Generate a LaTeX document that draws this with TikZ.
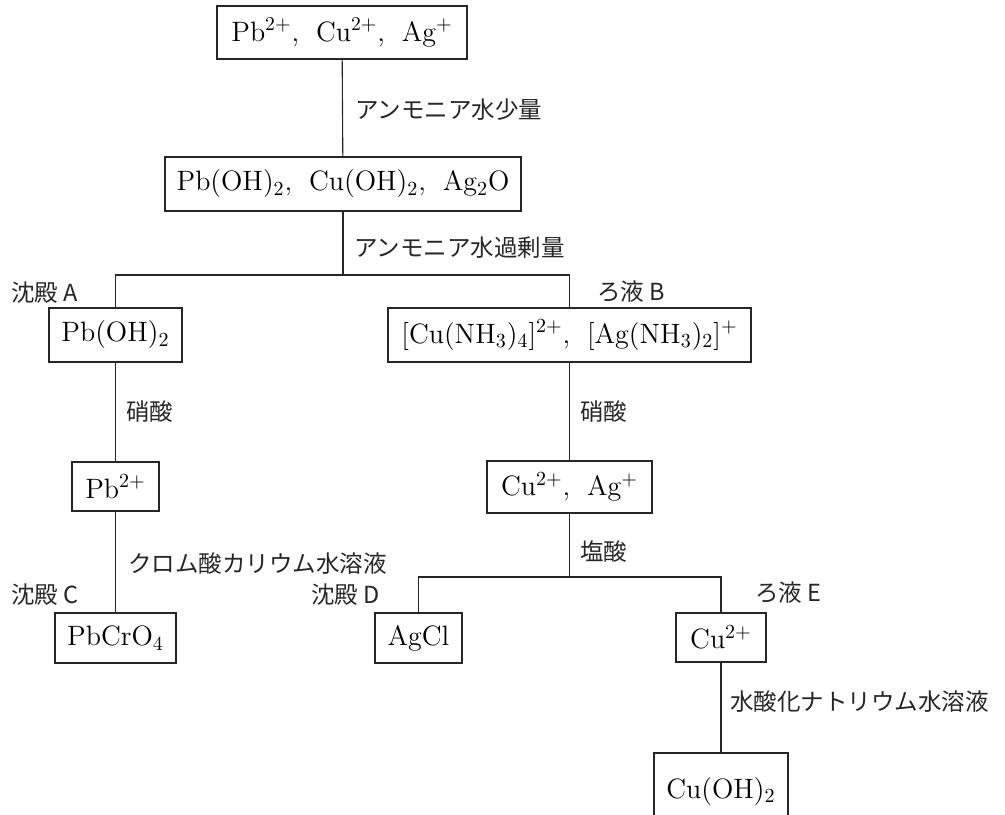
\documentclass[tikz,border=0pt]{standalone}
\usepackage{fontspec}
\newfontfamily\jp{Noto Sans CJK JP}
\newcommand{\jc}{,\hspace{0.6em}}
\begin{document}
\begin{tikzpicture}[x=0.5pt,y=-0.5pt,
  box/.style={draw=black!85, line width=0.55pt, inner sep=0pt, font=\fontsize{14}{17}\selectfont},
  lbl/.style={anchor=west, inner sep=0pt, font=\jp\fontsize{11.75}{14}\selectfont, text=black!85},
  conn/.style={draw=black!85, line width=0.55pt}]
\clip (0,0) rectangle (1005,814);
% boxes
\node[box, minimum width=125pt, minimum height=26.5pt] (n1) at (342,32.5) {$\mathrm{Pb^{2+}}$\jc$\mathrm{Cu^{2+}}$\jc$\mathrm{Ag^{+}}$};
\node[box, minimum width=178pt, minimum height=27pt] (n2) at (343,184) {Pb(OH)$_2$\jc Cu(OH)$_2$\jc Ag$_2$O};
\node[box, minimum width=66.5pt, minimum height=27pt] (A) at (115.5,335) {Pb(OH)$_2$};
\node[box, minimum width=181.5pt, minimum height=27pt] (B) at (569.5,335) {[Cu(NH$_3$)$_4$]$^{2+}$\jc[Ag(NH$_3$)$_2$]$^{+}$};
\node[box, minimum width=43.5pt, minimum height=24.5pt] (P2) at (115.5,486.5) {Pb$^{2+}$};
\node[box, minimum width=82.5pt, minimum height=26pt] (CA) at (569.5,487) {Cu$^{2+}$\jc Ag$^{+}$};
\node[box, minimum width=60.5pt, minimum height=25pt] (C) at (115.5,638) {PbCrO$_4$};
\node[box, minimum width=43.5pt, minimum height=25pt] (D) at (418.5,638) {AgCl};
\node[box, minimum width=45pt, minimum height=24.5pt] (E) at (721,637.5) {Cu$^{2+}$};
\node[box, minimum width=67pt, minimum height=38pt] (F) at (721,791) {Cu(OH)$_2$};
% junctions
\coordinate (j1) at (343,275);
\coordinate (j2) at (569.5,577);
% connectors
\draw[conn] (n1) -- (n2);
\draw[conn] (n2) -- (j1);
\draw[conn] (A.north) |- (j1) -| (B.north);
\draw[conn] (A) -- (P2);
\draw[conn] (P2) -- (C);
\draw[conn] (B) -- (CA);
\draw[conn] (CA) -- (j2);
\draw[conn] (D.north) |- (j2) -| (E.north);
\draw[conn] (E) -- (F);
% labels
\node[lbl] (l1) at (355,110) {アンモニア水少量};
\node[lbl] (l2) at (354,248) {アンモニア水過剰量};
\node[lbl] (lA) at (11,293) {沈殿 A};
\node[lbl] (lB) at (597,292) {ろ液 B};
\node[lbl] (l3) at (126,412) {硝酸};
\node[lbl] (l4) at (580,412) {硝酸};
\node[lbl] (l5) at (128,564) {クロム酸カリウム水溶液};
\node[lbl] (lC) at (11,595) {沈殿 C};
\node[lbl] (lD) at (311,595) {沈殿 D};
\node[lbl] (l6) at (580,552) {塩酸};
\node[lbl] (lE) at (755,593) {ろ液 E};
\node[lbl] (l7) at (730,702) {水酸化ナトリウム水溶液};
\end{tikzpicture}
\end{document}
